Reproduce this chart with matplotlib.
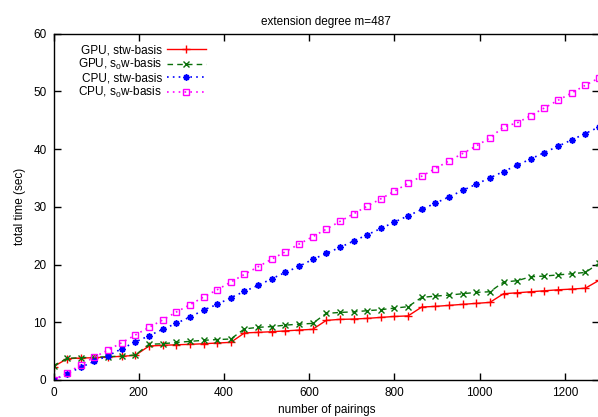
import numpy as np
import matplotlib
matplotlib.use('Agg')
import matplotlib.pyplot as plt

plt.rcParams['font.family'] = ['Liberation Sans', 'DejaVu Sans']
plt.rcParams['mathtext.fontset'] = 'custom'
plt.rcParams['mathtext.rm'] = 'Liberation Sans'
plt.rcParams['mathtext.it'] = 'Liberation Sans'

# number of pairings (step 32)
pairings = np.arange(0, 1281, 32)

gpu_stw = [2.3, 3.69, 3.8, 3.86, 3.98, 4.1, 4.27, 5.88, 6.0, 6.1, 6.17, 6.28, 6.4, 6.52,
           8.15, 8.25, 8.36, 8.5, 8.65, 8.77, 10.32, 10.5, 10.55, 10.67, 10.84, 11.0, 11.1,
           12.63, 12.75, 12.92, 13.1, 13.27, 13.44, 14.94, 15.1, 15.28, 15.45, 15.62, 15.74,
           15.9, 17.25]
gpu_s0w = [2.47, 3.75, 3.86, 3.93, 4.03, 4.15, 4.33, 6.18, 6.28, 6.5, 6.69, 6.87, 7.0, 7.1,
           8.85, 9.12, 9.25, 9.5, 9.67, 9.8, 11.53, 11.7, 11.8, 12.0, 12.17, 12.45, 12.7,
           14.3, 14.53, 14.7, 14.94, 15.17, 15.28, 16.95, 17.2, 17.88, 18.0, 18.2, 18.4,
           18.63, 20.2]
cpu_stw = [0, 1.09, 2.2, 3.24, 4.2, 5.41, 6.57, 7.66, 8.77, 9.81, 10.9, 12.1, 13.1, 14.24,
           15.35, 16.38, 17.53, 18.63, 19.67, 20.88, 21.92, 22.96, 24.05, 25.14, 26.24,
           27.34, 28.43, 29.53, 30.62, 31.71, 32.82, 33.91, 35.0, 36.1, 37.2, 38.29, 39.39,
           40.48, 41.58, 42.68, 43.82]
cpu_s0w = [0, 1.21, 2.6, 3.98, 5.19, 6.46, 7.79, 9.12, 10.38, 11.76, 13.03, 14.36, 15.62,
           16.96, 18.29, 19.6, 20.93, 22.2, 23.53, 24.8, 26.12, 27.46, 28.77, 30.1, 31.37,
           32.7, 34.03, 35.29, 36.62, 37.94, 39.22, 40.53, 41.92, 43.82, 44.52, 45.79,
           47.11, 48.44, 49.71, 51.04, 52.3]

fig = plt.figure(figsize=(5.98, 4.17), dpi=100)
ax = fig.add_axes([53.5 / 598, 37 / 417, 545.5 / 598, 346.5 / 417])

ax.plot(pairings, gpu_stw, color='red', ls='-', lw=1, marker='+', ms=5.5, mew=1,
        label='GPU, stw-basis')
ax.plot(pairings, gpu_s0w, color='#0a700a', ls=(0, (4, 3)), lw=1, marker='x', ms=4.5, mew=1,
        label='GPU, s$_0$w-basis')
ax.plot(pairings, cpu_stw, color='blue', ls=(0, (1, 2.5)), lw=1.2, marker=(8, 2, 0), ms=4.5, mew=1.2,
        label='CPU, stw-basis')
ax.plot(pairings, cpu_s0w, color='magenta', ls=(0, (1, 2.5)), lw=1.2, marker='s', ms=4.8,
        mfc='none', mew=1, label='CPU, s$_0$w-basis')

ax.set_xlim(0, 1280)
ax.set_ylim(0, 60)
ax.set_xticks(range(0, 1201, 200))
ax.set_yticks(range(0, 61, 10))
ax.tick_params(direction='in', top=True, right=True, length=5, width=1, labelsize=8.5, pad=5)
for s in ax.spines.values():
    s.set_linewidth(1)

ax.set_title('extension degree m=487', fontsize=8.5, pad=6)
ax.set_xlabel('number of pairings', fontsize=8.5, labelpad=4)
ax.set_ylabel('total time (sec)', fontsize=8.5, labelpad=5)

ax.legend(loc='upper left', bbox_to_anchor=(0.025, 1.0), markerfirst=False, frameon=False,
          fontsize=8.5, handlelength=3.3, handletextpad=0.4, labelspacing=0.05, borderpad=0.4)

fig.savefig('out.png', dpi=100)
